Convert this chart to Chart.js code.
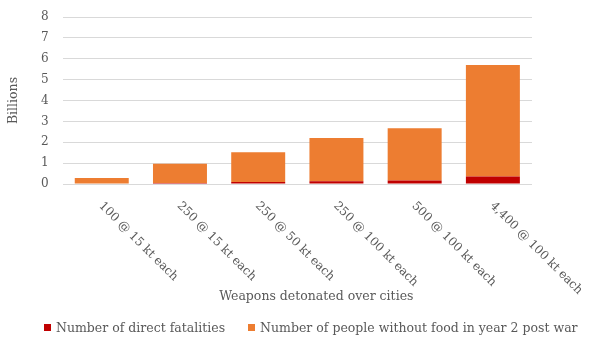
<!DOCTYPE html>
<html>
<head>
<meta charset="utf-8">
<script src="https://cdn.jsdelivr.net/npm/chart.js@4/dist/chart.umd.min.js"></script>
<style>
    html, body { margin: 0; padding: 0; background: #fff; }
    #wrap { position: relative; width: 597px; height: 343px; }
    #legend {
        position: absolute; left: 44px; top: 320px;
        display: flex; align-items: center;
        font: 12.5px "DejaVu Serif", serif; color: #595959; white-space: nowrap;
    }
    #legend .item { display: flex; align-items: center; margin-right: 23px; }
    #legend .box { width: 7px; height: 7px; margin-right: 5px; }
</style>
</head>
<body>
<div id="wrap">
    <canvas id="chart" width="597" height="343"></canvas>
    <div id="legend"></div>
</div>
<script>
    const categories = ['100 @ 15 kt each', '250 @ 15 kt each', '250 @ 50 kt each',
        '250 @ 100 kt each', '500 @ 100 kt each', '4,400 @ 100 kt each'];
    const fatalities = [0.027, 0.044, 0.097, 0.127, 0.164, 0.36];
    const withoutFood = [0.255, 0.926, 1.426, 2.081, 2.512, 5.341];
    const seriesNames = ['Number of direct fatalities', 'Number of people without food in year 2 post war'];
    const seriesColors = ['#c00000', '#ed7d31'];
    const xTitle = 'Weapons detonated over cities';
    const yTitle = 'Billions';

    const fontFamily = '"DejaVu Serif", serif';
    const textColor = '#595959';

    // rotated category labels hang down-right from each bar, so draw them ourselves
    const slantedLabels = {
        id: 'slantedLabels',
        afterDraw(chart) {
            const { ctx, chartArea, scales } = chart;
            const x = scales.x;
            ctx.save();
            ctx.fillStyle = textColor;
            ctx.font = '12px ' + fontFamily;
            ctx.textAlign = 'left';
            ctx.textBaseline = 'middle';
            x.ticks.forEach((t, i) => {
                const px = x.getPixelForTick(i);
                ctx.save();
                ctx.translate(px - 1, chartArea.bottom + 20);
                ctx.rotate(Math.PI / 4);
                ctx.fillText(x.getLabelForValue(t.value), 0, 0);
                ctx.restore();
            });
            ctx.textAlign = 'center';
            ctx.font = '12.5px ' + fontFamily;
            ctx.fillText(xTitle, (chartArea.left + chartArea.right) / 2 + 19, 297);
            ctx.restore();
        }
    };

    const ctx = document.getElementById('chart').getContext('2d');
    new Chart(ctx, {
        type: 'bar',
        data: {
            labels: categories,
            datasets: [
                { label: seriesNames[0], data: fatalities, backgroundColor: seriesColors[0] },
                { label: seriesNames[1], data: withoutFood, backgroundColor: seriesColors[1] }
            ].map(d => Object.assign(d, { categoryPercentage: 1, barPercentage: 0.69, borderWidth: 0 }))
        },
        options: {
            responsive: false,
            devicePixelRatio: 1,
            animation: false,
            layout: { padding: { top: 17, right: 65, bottom: 151, left: 0 } },
            plugins: {
                legend: { display: false },
                tooltip: { enabled: false }
            },
            scales: {
                x: {
                    stacked: true,
                    grid: { display: false },
                    border: { display: false },
                    ticks: { display: false }
                },
                y: {
                    stacked: true,
                    min: 0,
                    max: 8,
                    // plot box is set by layout padding alone
                    afterFit: s => { s.paddingTop = 0; s.paddingBottom = 0; },
                    border: { display: false },
                    grid: { color: '#d9d9d9', drawTicks: false },
                    ticks: {
                        stepSize: 1,
                        padding: 14,
                        color: textColor,
                        font: { family: fontFamily, size: 12 }
                    },
                    title: {
                        display: true,
                        text: yTitle,
                        color: textColor,
                        font: { family: fontFamily, size: 12.5 },
                        padding: { top: 6, bottom: 6 }
                    }
                }
            }
        },
        plugins: [slantedLabels]
    });

    const legend = document.getElementById('legend');
    seriesNames.forEach((name, i) => {
        legend.innerHTML += `<span class="item"><span class="box" style="background:${seriesColors[i]}"></span>${name}</span>`;
    });
</script>
</body>
</html>
